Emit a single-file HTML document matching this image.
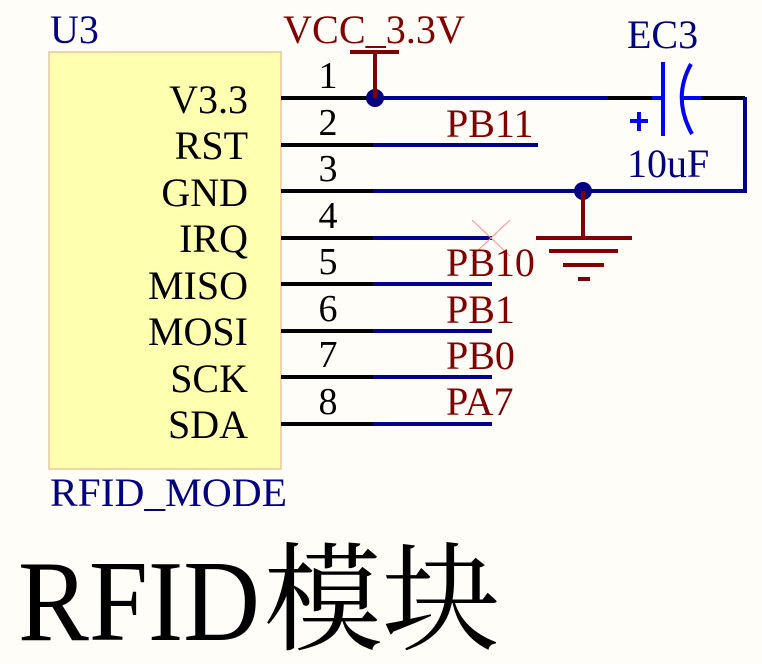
<!DOCTYPE html>
<html><head><meta charset="utf-8"><style>
html,body{margin:0;padding:0;background:#fffdf8;}
svg{display:block}
text{font-family:"Liberation Serif","Noto Serif CJK SC",serif;}
</style></head><body>
<svg width="762" height="664" viewBox="0 0 762 664" xmlns="http://www.w3.org/2000/svg">
<rect x="0" y="0" width="762" height="664" fill="#fffdf8"/>
<rect x="49" y="52" width="232" height="417" fill="#ffffb0" stroke="#e8c8a0" stroke-width="1.5"/>
<text x="50" y="43" font-size="40" fill="#000080">U3</text>
<text x="50" y="506" font-size="40" fill="#000080" textLength="237" lengthAdjust="spacingAndGlyphs">RFID_MODE</text>
<g font-size="40" fill="#000" text-anchor="end">
<text x="248" y="113">V3.3</text>
<text x="248" y="159">RST</text>
<text x="248" y="206">GND</text>
<text x="248" y="252">IRQ</text>
<text x="248" y="299">MISO</text>
<text x="248" y="345">MOSI</text>
<text x="248" y="392">SCK</text>
<text x="248" y="438">SDA</text>
</g>
<g font-size="38" fill="#000" text-anchor="middle">
<text x="328" y="88">1</text><text x="328" y="135">2</text><text x="328" y="181">3</text><text x="328" y="228">4</text>
<text x="328" y="274">5</text><text x="328" y="321">6</text><text x="328" y="367">7</text><text x="328" y="414">8</text>
</g>
<g stroke="#000" stroke-width="4">
<line x1="281" y1="98" x2="373" y2="98"/><line x1="281" y1="145" x2="373" y2="145"/>
<line x1="281" y1="191" x2="373" y2="191"/><line x1="281" y1="238" x2="373" y2="238"/>
<line x1="281" y1="284" x2="373" y2="284"/><line x1="281" y1="331" x2="373" y2="331"/>
<line x1="281" y1="377" x2="373" y2="377"/><line x1="281" y1="424" x2="373" y2="424"/>
<line x1="608" y1="98" x2="655" y2="98"/><line x1="700" y1="98" x2="745" y2="98"/>
</g>
<g stroke="#000090" stroke-width="4" fill="none">
<line x1="373" y1="98" x2="608" y2="98"/>
<line x1="373" y1="145" x2="538" y2="145"/>
<polyline points="373,191 745,191 745,97"/>
<line x1="373" y1="238" x2="492" y2="238"/><line x1="373" y1="284" x2="492" y2="284"/>
<line x1="373" y1="331" x2="492" y2="331"/><line x1="373" y1="377" x2="492" y2="377"/>
<line x1="373" y1="424" x2="492" y2="424"/>
</g>
<circle cx="375" cy="98" r="9" fill="#000080"/>
<circle cx="583" cy="191" r="9" fill="#000080"/>
<g stroke="#ff9090" stroke-width="1"><line x1="472" y1="220" x2="510" y2="256"/><line x1="510" y1="220" x2="472" y2="256"/></g>
<g stroke="#800000" stroke-width="4">
<line x1="350" y1="52" x2="399" y2="52"/><line x1="375" y1="52" x2="375" y2="98"/>
<line x1="583" y1="191" x2="583" y2="238"/>
<line x1="536" y1="238" x2="632" y2="238"/><line x1="549" y1="251" x2="618" y2="251"/>
<line x1="563" y1="265" x2="604" y2="265"/><line x1="578" y1="279" x2="590" y2="279"/>
</g>
<text x="283" y="43" font-size="40" fill="#800000" textLength="182" lengthAdjust="spacingAndGlyphs">VCC_3.3V</text>
<g font-size="40" fill="#800000">
<text x="446" y="137">PB11</text><text x="446" y="276">PB10</text>
<text x="446" y="323">PB1</text><text x="446" y="369">PB0</text><text x="446" y="415">PA7</text>
</g>
<g stroke="#0000ff" stroke-width="4" fill="none">
<line x1="652" y1="98" x2="663" y2="98"/>
<line x1="663" y1="62" x2="663" y2="136"/>
<path d="M691 64 Q672 98 692 134"/>
<line x1="682" y1="98" x2="701" y2="98"/>
<line x1="630" y1="121" x2="648" y2="121"/><line x1="639" y1="112" x2="639" y2="131"/>
</g>
<text x="627" y="48" font-size="40" fill="#000080">EC3</text>
<text x="627" y="177" font-size="40" fill="#000080">10uF</text>
<text x="18" y="640" font-family="'Liberation Serif',serif" font-size="116" fill="#000" textLength="242" lengthAdjust="spacingAndGlyphs">RFID</text>
<text x="264" y="641" font-family="'Noto Serif CJK SC',serif" font-size="118" fill="#000">模块</text>
</svg>
</body></html>
